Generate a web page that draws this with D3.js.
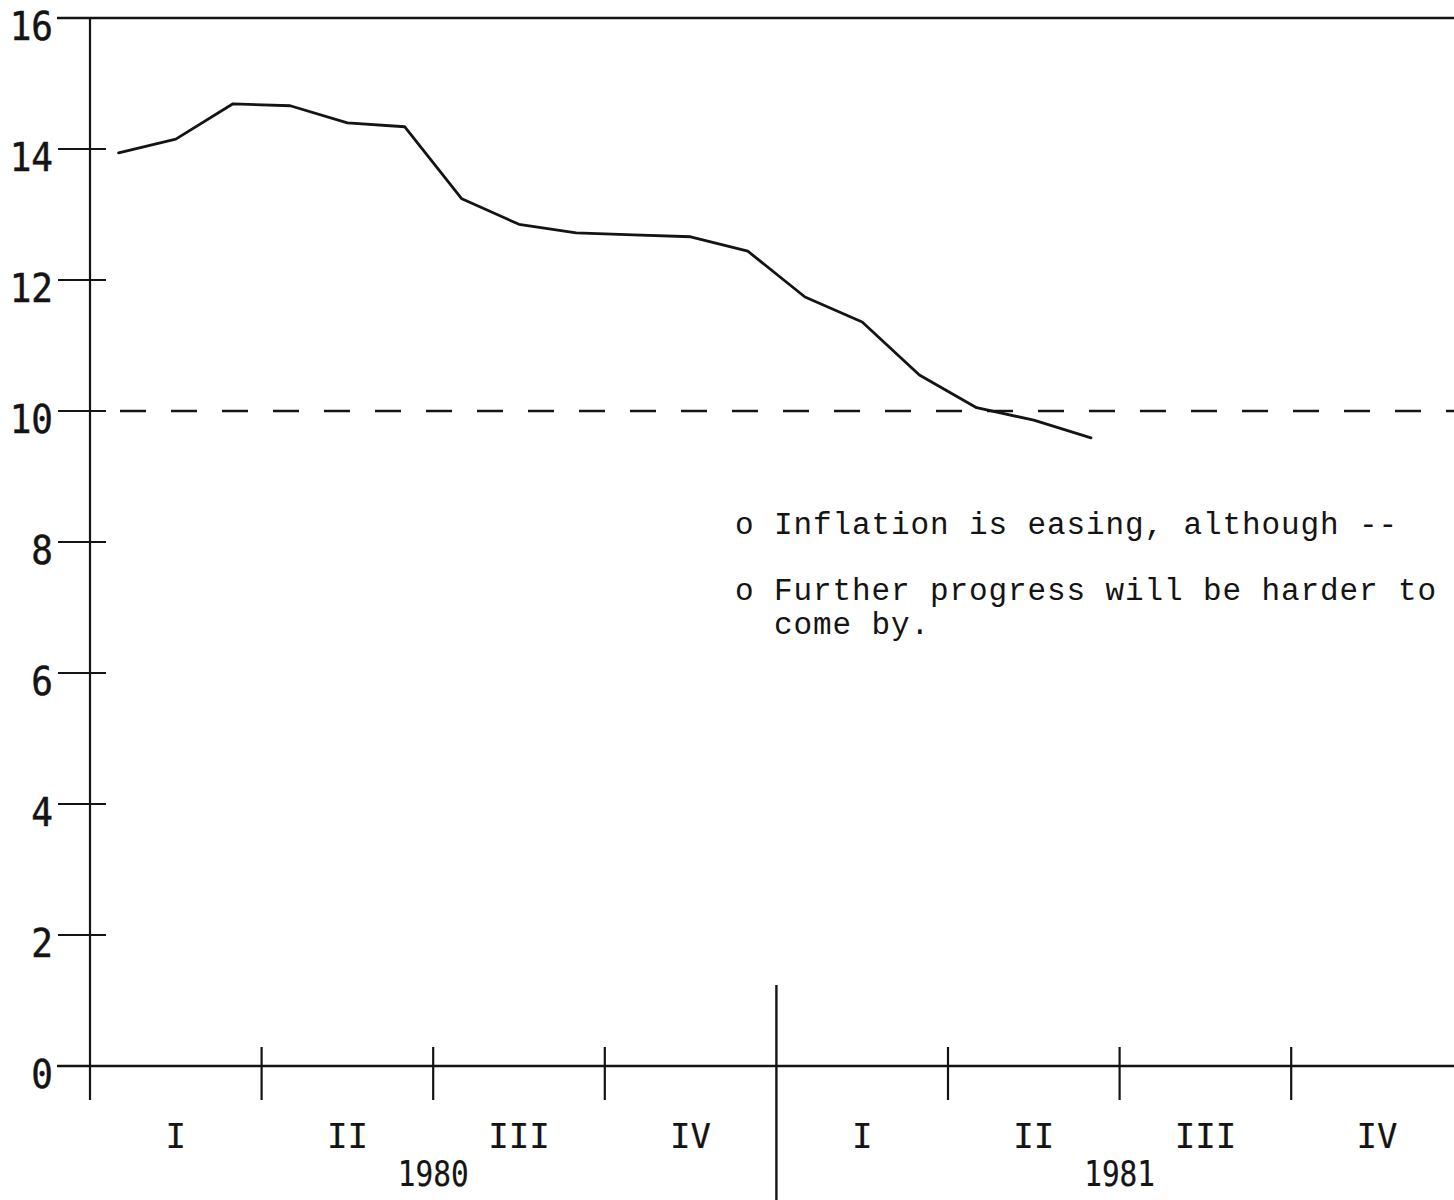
<!DOCTYPE html>
<html>
<head>
<meta charset="utf-8">
<script src="https://cdn.jsdelivr.net/npm/d3@7"></script>
<style>
  html, body { margin: 0; padding: 0; background: #fff; }
  svg { display: block; }
</style>
</head>
<body>
<svg id="chart" width="1454" height="1200"></svg>
<script>
// ---- data (monthly, percent change from a year earlier) ----
const months = ["1980-01","1980-02","1980-03","1980-04","1980-05","1980-06",
                "1980-07","1980-08","1980-09","1980-10","1980-11","1980-12",
                "1981-01","1981-02","1981-03","1981-04","1981-05","1981-06"];
const inflation = [13.94, 14.15, 14.69, 14.66, 14.40, 14.34,
                   13.24, 12.85, 12.72, 12.69, 12.66, 12.44,
                   11.74, 11.36, 10.55, 10.05, 9.86, 9.59];
const referenceLevel = 10;
const yTicks = [0, 2, 4, 6, 8, 10, 12, 14, 16];
const quarterLabels = ["I","II","III","IV","I","II","III","IV"];
const yearLabels = ["1980","1981"];
const notes = ["o Inflation is easing, although --",
               "o Further progress will be harder to",
               "  come by."];

// ---- layout ----
const svg = d3.select("#chart");
const ink = "#141414";
const x = d3.scaleLinear().domain([0, 24]).range([90, 90 + 24 * 57.2]);
const y = d3.scaleLinear().domain([0, 16]).range([1066, 18]);
const plotFont = "'DejaVu Sans Mono', monospace";

// top frame line
svg.append("line")
  .attr("x1", 57).attr("x2", 1454)
  .attr("y1", y(16)).attr("y2", y(16))
  .attr("stroke", ink).attr("stroke-width", 2.5);

// x axis line
svg.append("line")
  .attr("x1", 57).attr("x2", 1454)
  .attr("y1", y(0)).attr("y2", y(0))
  .attr("stroke", ink).attr("stroke-width", 2.5);

// y axis line
svg.append("line")
  .attr("x1", x(0)).attr("x2", x(0))
  .attr("y1", y(16)).attr("y2", 1100)
  .attr("stroke", ink).attr("stroke-width", 2.2);

// y ticks (crossing the axis)
svg.selectAll("line.ytick").data(yTicks).join("line")
  .attr("class", "ytick")
  .attr("x1", 58).attr("x2", 106)
  .attr("y1", d => y(d)).attr("y2", d => y(d))
  .attr("stroke", ink).attr("stroke-width", 2.2);

svg.selectAll("text.ylab").data(yTicks).join("text")
  .attr("class", "ylab")
  .attr("x", 0).attr("y", 0)
  .attr("dy", "0.36em")
  .attr("text-anchor", "end")
  .attr("font-family", plotFont)
  .attr("font-size", 36)
  .attr("stroke", ink).attr("stroke-width", 0.45)
  .attr("transform", d => `translate(53,${y(d) + 8}) scale(1,1.08)`)
  .attr("fill", ink)
  .text(d => d);

// quarter ticks on x axis
const qTicks = d3.range(1, 8).map(q => q * 3).filter(m => m !== 12);
svg.selectAll("line.xtick").data(qTicks).join("line")
  .attr("class", "xtick")
  .attr("x1", d => x(d)).attr("x2", d => x(d))
  .attr("y1", 1047).attr("y2", 1100)
  .attr("stroke", ink).attr("stroke-width", 2.2);

// year divider
svg.append("line")
  .attr("x1", x(12)).attr("x2", x(12))
  .attr("y1", 985).attr("y2", 1200)
  .attr("stroke", ink).attr("stroke-width", 2.4);

// quarter labels
svg.selectAll("text.qlab").data(quarterLabels).join("text")
  .attr("class", "qlab")
  .attr("x", (d, i) => x(i * 3 + 1.5))
  .attr("y", 1148)
  .attr("text-anchor", "middle")
  .attr("font-family", plotFont)
  .attr("font-size", 34)
  .attr("stroke", ink).attr("stroke-width", 0.2)
  .attr("fill", ink)
  .text(d => d);

// year labels
svg.selectAll("text.yrlab").data(yearLabels).join("text")
  .attr("class", "yrlab")
  .attr("x", 0).attr("y", 0)
  .attr("text-anchor", "middle")
  .attr("font-family", plotFont)
  .attr("font-size", 32)
  .attr("stroke", ink).attr("stroke-width", 0.2)
  .attr("transform", (d, i) => `translate(${x(i * 12 + 6)},1186) scale(0.92,1.12)`)
  .attr("fill", ink)
  .text(d => d);

// dashed reference line at 10%
svg.append("line")
  .attr("x1", 120).attr("x2", 1454)
  .attr("y1", y(referenceLevel)).attr("y2", y(referenceLevel))
  .attr("stroke", ink).attr("stroke-width", 2.4)
  .attr("stroke-dasharray", "26 25");

// data line
const line = d3.line()
  .x((d, i) => x(i + 0.5))
  .y(d => y(d));
svg.append("path")
  .datum(inflation)
  .attr("d", line)
  .attr("fill", "none")
  .attr("stroke", ink)
  .attr("stroke-width", 2.8)
  .attr("stroke-linejoin", "round")
  .attr("stroke-linecap", "round");

// annotation notes
const noteY = [534, 600, 634];
svg.selectAll("text.note").data(notes).join("text")
  .attr("class", "note")
  .attr("x", 735)
  .attr("y", (d, i) => noteY[i])
  .attr("font-family", "'Liberation Mono', 'Courier New', monospace")
  .attr("font-size", 31)
  .attr("letter-spacing", 0.9)
  .attr("fill", ink)
  .attr("xml:space", "preserve")
  .style("white-space", "pre")
  .text(d => d);
</script>
</body>
</html>
